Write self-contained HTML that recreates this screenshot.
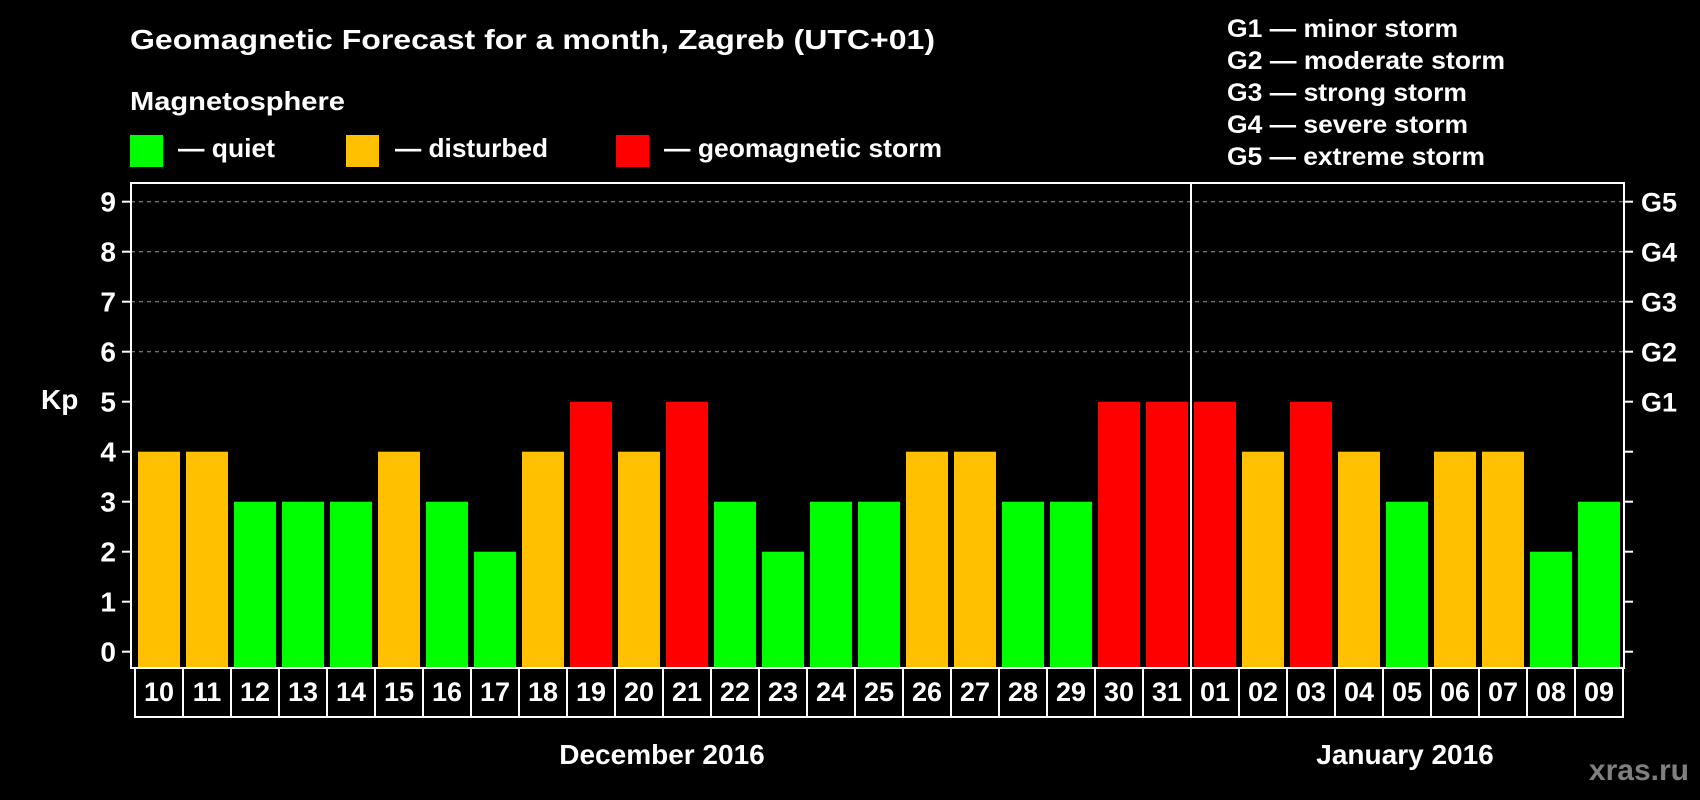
<!DOCTYPE html>
<html><head><meta charset="utf-8"><style>
html,body{margin:0;padding:0;background:#000;}
svg{display:block;font-family:"Liberation Sans",Arial,sans-serif;font-weight:bold;}
</style></head><body>
<svg id="chart" width="1700" height="800" viewBox="0 0 1700 800">
<rect x="0" y="0" width="1700" height="800" fill="#000"/>
<text x="130" y="49" fill="#fff" font-size="28" textLength="805" lengthAdjust="spacingAndGlyphs">Geomagnetic Forecast for a month, Zagreb (UTC+01)</text>
<text x="130" y="110" fill="#fff" font-size="26" textLength="215" lengthAdjust="spacingAndGlyphs">Magnetosphere</text>
<g>
<rect x="130" y="135" width="33" height="32" fill="#00ff00"/>
<text x="178" y="157" fill="#fff" font-size="26" textLength="97" lengthAdjust="spacingAndGlyphs">— quiet</text>
<rect x="346" y="135" width="33" height="32" fill="#ffc000"/>
<text x="395" y="157" fill="#fff" font-size="26" textLength="153" lengthAdjust="spacingAndGlyphs">— disturbed</text>
<rect x="616" y="135" width="33" height="32" fill="#ff0000"/>
<text x="664" y="157" fill="#fff" font-size="26" textLength="278" lengthAdjust="spacingAndGlyphs">— geomagnetic storm</text>
</g>
<g fill="#fff" font-size="25">
<text x="1227" y="37" textLength="231" lengthAdjust="spacingAndGlyphs">G1 — minor storm</text>
<text x="1227" y="69" textLength="278" lengthAdjust="spacingAndGlyphs">G2 — moderate storm</text>
<text x="1227" y="101" textLength="240" lengthAdjust="spacingAndGlyphs">G3 — strong storm</text>
<text x="1227" y="133" textLength="241" lengthAdjust="spacingAndGlyphs">G4 — severe storm</text>
<text x="1227" y="165" textLength="258" lengthAdjust="spacingAndGlyphs">G5 — extreme storm</text>
</g>
<text x="41" y="409" fill="#fff" font-size="28">Kp</text>
<g id="grid"></g>
<g id="bars"></g>
<g id="axes"></g>
<g id="cells"></g>
<text x="662" y="764" fill="#fff" font-size="28" text-anchor="middle">December 2016</text>
<text x="1405" y="764" fill="#fff" font-size="28" text-anchor="middle">January 2016</text>
<text x="1689" y="780" fill="#808080" font-size="30" text-anchor="end">xras.ru</text>
</svg>
<script>
const days = ["10","11","12","13","14","15","16","17","18","19","20","21","22","23","24","25","26","27","28","29","30","31","01","02","03","04","05","06","07","08","09"];
const kpValues = [4,4,3,3,3,4,3,2,4,5,4,5,3,2,3,3,4,4,3,3,5,5,5,4,5,4,3,4,4,2,3];
const yTicks = [0,1,2,3,4,5,6,7,8,9];
const gLabels = ["G1","G2","G3","G4","G5"];
const gLevels = [5,6,7,8,9];

const NS = "http://www.w3.org/2000/svg";
const plotL = 131, plotR = 1624, plotT = 183, plotB = 668, cellB = 717;
const cell0 = 135, pitch = 48, barW = 42;
const y = v => 651.7 - 50 * v;
const xCell = i => cell0 + i * pitch;
function mk(tag, attrs, parent) {
  const e = document.createElementNS(NS, tag);
  for (const k in attrs) e.setAttribute(k, attrs[k]);
  parent.appendChild(e);
  return e;
}
const grid = document.getElementById("grid");
const bars = document.getElementById("bars");
const axes = document.getElementById("axes");
const cells = document.getElementById("cells");
const color = v => v >= 5 ? "#ff0000" : (v >= 4 ? "#ffc000" : "#00ff00");

yTicks.forEach(v => {
  if (v >= 6) {
    const g = mk("line", {x1: plotL, x2: plotR, y1: y(v), y2: y(v), stroke: "#9a9a9a", "stroke-width": 1, "stroke-dasharray": "4,4"}, grid);
    
    
  }
  const tl = mk("line", {x1: plotL - 9, x2: plotL, y1: y(v), y2: y(v), stroke: "#fff", "stroke-width": 2}, axes);
  
  
  const tr = mk("line", {x1: plotR, x2: plotR + 9, y1: y(v), y2: y(v), stroke: "#fff", "stroke-width": 2}, axes);
  
  
  const t = mk("text", {x: 116, y: y(v) + 10, fill: "#fff", "font-size": 28, "text-anchor": "end"}, axes);
  t.textContent = v;
  
  
});
gLevels.forEach((v, i) => {
  const t = mk("text", {x: 1641, y: y(v) + 10, fill: "#fff", "font-size": 27}, axes);
  t.textContent = gLabels[i];
  
  
});

kpValues.forEach((v, i) => {
  const r = mk("rect", {x: xCell(i) + 3, y: y(v), width: barW, height: plotB - y(v), fill: color(v)}, bars);
  
  
});

const frame = mk("rect", {x: plotL, y: plotT, width: plotR - plotL, height: plotB - plotT, fill: "none", stroke: "#fff", "stroke-width": 2}, axes);


const sep = mk("line", {x1: xCell(22), x2: xCell(22), y1: plotT, y2: plotB, stroke: "#fff", "stroke-width": 2}, axes);



days.forEach((d, i) => {
  const c = mk("rect", {x: xCell(i), y: plotB, width: pitch, height: cellB - plotB, fill: "#000", stroke: "#fff", "stroke-width": 2}, cells);
  
  
  const t = mk("text", {x: xCell(i) + pitch / 2, y: 701, fill: "#fff", "font-size": 27, "text-anchor": "middle"}, cells);
  t.textContent = d;
  
  
});
</script>
</body></html>
